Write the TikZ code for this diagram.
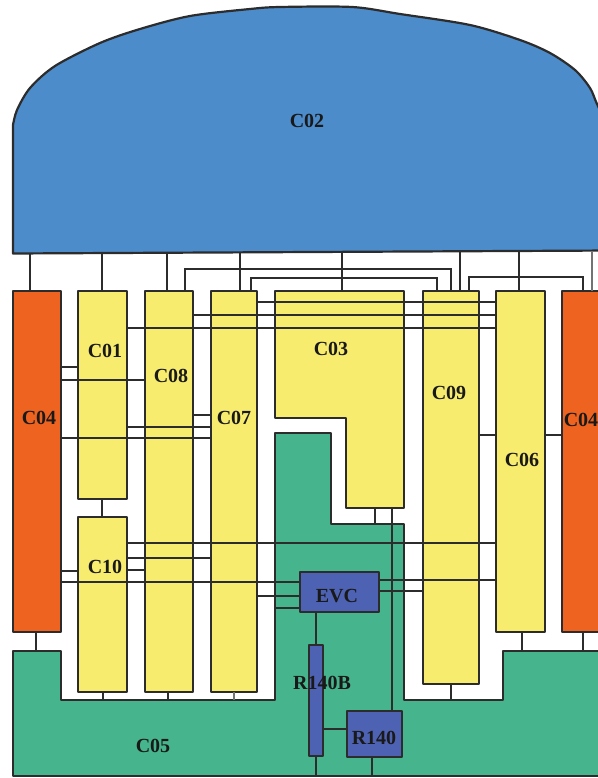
\documentclass[tikz,border=0pt]{standalone}
\usepackage{fontspec}
\setmainfont{Liberation Serif}
\begin{document}
\begin{tikzpicture}[x=1pt,y=-1pt]

% --- Global TikZ Styles ---
\definecolor{domeblue}{HTML}{4C8CCB}
\definecolor{wallorange}{HTML}{EE6320}
\definecolor{roomyellow}{HTML}{F7EC6E}
\definecolor{basegreen}{HTML}{46B48C}
\definecolor{unitblue}{HTML}{4E62B4}
\definecolor{linedark}{HTML}{2C2C2C}
\tikzset{
    outline/.style={draw=linedark, line width=2.2pt, line join=round},
    block/.style={outline, rectangle, inner sep=0pt, outer sep=0pt},
    wallblock/.style={block, fill=wallorange},
    roomblock/.style={block, fill=roomyellow},
    unitblock/.style={block, fill=unitblue},
    wire/.style={draw=linedark, line width=2.2pt},
    tag/.style={text=black!90, font=\fontsize{20}{20}\bfseries\selectfont, inner sep=0pt}
}

\useasboundingbox (0,0) rectangle (597,778);

% --- Levels of the shapes drawn as paths ---
\coordinate (c02s) at (0,252);
\coordinate (c03n) at (0,291);
\coordinate (c03s) at (0,508);
\coordinate (c05n) at (0,524);
\coordinate (c05w) at (275,0);
\coordinate (c05t) at (0,651);
\coordinate (c05u) at (0,700);
\coordinate (c05b) at (0,776);

% --- C05 (base) ---
\path[outline, fill=basegreen] (13,651) -- (61,651) -- (61,700) -- (275,700) -- (275,433)
    -- (331,433) -- (331,524) -- (404,524) -- (404,700) -- (503,700) -- (503,651)
    -- (640,651) -- (640,776) -- (13,776) -- cycle;

% --- C03 ---
\path[outline, fill=roomyellow] (275,291) -- (404,291) -- (404,508) -- (346,508)
    -- (346,418) -- (275,418) -- cycle;

% --- Blocks ---
\node[wallblock, minimum width=48pt, minimum height=341pt] (c04a) at (37,461.5) {};
\node[wallblock, minimum width=78pt, minimum height=341pt] (c04b) at (601,461.5) {};
\node[roomblock, minimum width=49pt, minimum height=208pt] (c01) at (102.5,395) {};
\node[roomblock, minimum width=49pt, minimum height=175pt] (c10) at (102.5,604.5) {};
\node[roomblock, minimum width=48pt, minimum height=401pt] (c08) at (169,491.5) {};
\node[roomblock, minimum width=46pt, minimum height=401pt] (c07) at (234,491.5) {};
\node[roomblock, minimum width=56pt, minimum height=393pt] (c09) at (451,487.5) {};
\node[roomblock, minimum width=49pt, minimum height=341pt] (c06) at (520.5,461.5) {};

% --- Units ---
\node[unitblock, minimum width=79pt, minimum height=40pt] (evc) at (339.5,592) {};
\node[unitblock, minimum width=14pt, minimum height=111pt] (r140b) at (316,700.5) {};
\node[unitblock, minimum width=55pt, minimum height=46pt] (r140) at (374.5,734) {};

% --- Wires down from C02 ---
\draw[wire] (c02s -| 30,0) -- (c04a.north -| 30,0);
\draw[wire] (c02s -| 102,0) -- (c01.north -| 102,0);
\draw[wire] (c02s -| 167,0) -- (c08.north -| 167,0);
\draw[wire] (c02s -| 240,0) -- (c07.north -| 240,0);
\draw[wire] (c02s -| 342,0) -- (c03n -| 342,0);
\draw[wire] (c02s -| 460,0) -- (c09.north -| 460,0);
\draw[wire] (c02s -| 519,0) -- (c06.north -| 519,0);
\draw[wire, draw=black!55] (c02s -| 592,0) -- (c04b.north -| 592,0);

% --- Loops over the tops ---
\draw[wire] (c08.north -| 185,0) -- (185,269) -- (451,269) -- (c09.north -| 451,0);
\draw[wire] (c07.north -| 251,0) -- (251,278) -- (437,278) -- (c09.north -| 437,0);
\draw[wire] (c09.north -| 469,0) -- (469,277) -- (583,277) -- (c04b.north -| 583,0);

% --- Upper cross wires ---
\draw[wire] (c07.east |- 0,302) -- (c06.west |- 0,302);
\draw[wire] (c08.east |- 0,315) -- (c06.west |- 0,315);
\draw[wire] (c01.east |- 0,328) -- (c06.west |- 0,328);
\draw[wire] (c04a.east |- 0,367) -- (c01.west |- 0,367);
\draw[wire] (c04a.east |- 0,380) -- (c08.west |- 0,380);
\draw[wire] (c08.east |- 0,415) -- (c07.west |- 0,415);
\draw[wire] (c01.east |- 0,427) -- (c07.west |- 0,427);
\draw[wire] (c04a.east |- 0,438) -- (c07.west |- 0,438);
\draw[wire] (c09.east |- 0,435) -- (c06.west |- 0,435);
\draw[wire] (c06.east |- 0,435) -- (c04b.west |- 0,435);

% --- Lower cross wires ---
\draw[wire] (c10.east |- 0,543) -- (c06.west |- 0,543);
\draw[wire] (c10.east |- 0,558) -- (c07.west |- 0,558);
\draw[wire] (c10.east |- 0,570) -- (c08.west |- 0,570);
\draw[wire] (c04a.east |- 0,571) -- (c10.west |- 0,571);
\draw[wire] (c04a.east |- 0,582) -- (evc.west |- 0,582);
\draw[wire] (c07.east |- 0,596) -- (evc.west |- 0,596);
\draw[wire] (c05w |- 0,608) -- (evc.west |- 0,608);
\draw[wire] (evc.east |- 0,580) -- (c06.west |- 0,580);
\draw[wire] (evc.east |- 0,591) -- (c09.west |- 0,591);

% --- Short vertical wires ---
\draw[wire] (c01.south -| 102,0) -- (c10.north -| 102,0);
\draw[wire] (c04a.south -| 36,0) -- (c05t -| 36,0);
\draw[wire] (c10.south -| 103,0) -- (c05u -| 103,0);
\draw[wire] (c08.south -| 168,0) -- (c05u -| 168,0);
\draw[wire, draw=black!55] (c07.south) -- (c05u -| c07);
\draw[wire] (c09.south -| 451,0) -- (c05u -| 451,0);
\draw[wire] (c06.south -| 522,0) -- (c05t -| 522,0);
\draw[wire] (c04b.south -| 583,0) -- (c05t -| 583,0);
\draw[wire] (c03s -| 375,0) -- (c05n -| 375,0);

% --- Wires of the units ---
\draw[wire] (c03s -| 392,0) -- (r140.north -| 392,0);
\draw[wire] (evc.south -| r140b) -- (r140b.north);
\draw[wire] (r140b.east |- 0,729) -- (r140.west |- 0,729);
\draw[wire] (r140b.south) -- (c05b -| r140b);
\draw[wire] (r140.south -| 372,0) -- (c05b -| 372,0);

% --- C02 (dome) ---
\path[outline, fill=domeblue] (13,253.5) -- (13,125)
    -- plot[smooth] coordinates {(13,125) (17,110) (30,88) (55,66) (100,43) (140,29) (190,16)
    (250,9) (280,7) (352,7) (400,14) (470,25) (520,40) (550,53) (575,70) (590,88) (597,104) (612,135)}
    -- (612,250.5) -- cycle;

% --- Labels ---
\node[tag] (c02t) at (307,121) {C02};
\node[tag] (c01t) at (105,351) {C01};
\node[tag] (c08t) at (171,376) {C08};
\node[tag] (c07t) at (234,418) {C07};
\node[tag] (c04at) at (39,418) {C04};
\node[tag] (c04bt) at (581,420) {C04};
\node[tag] (c03t) at (331,349) {C03};
\node[tag] (c09t) at (449,393) {C09};
\node[tag] (c06t) at (522,460) {C06};
\node[tag] (c10t) at (105,567) {C10};
\node[tag] (c05t2) at (153,746) {C05};
\node[tag] (evct) at (337,596) {EVC};
\node[tag] (r140bt) at (322,683) {R140B};
\node[tag] (r140t) at (374,738) {R140};

\end{tikzpicture}
\end{document}
